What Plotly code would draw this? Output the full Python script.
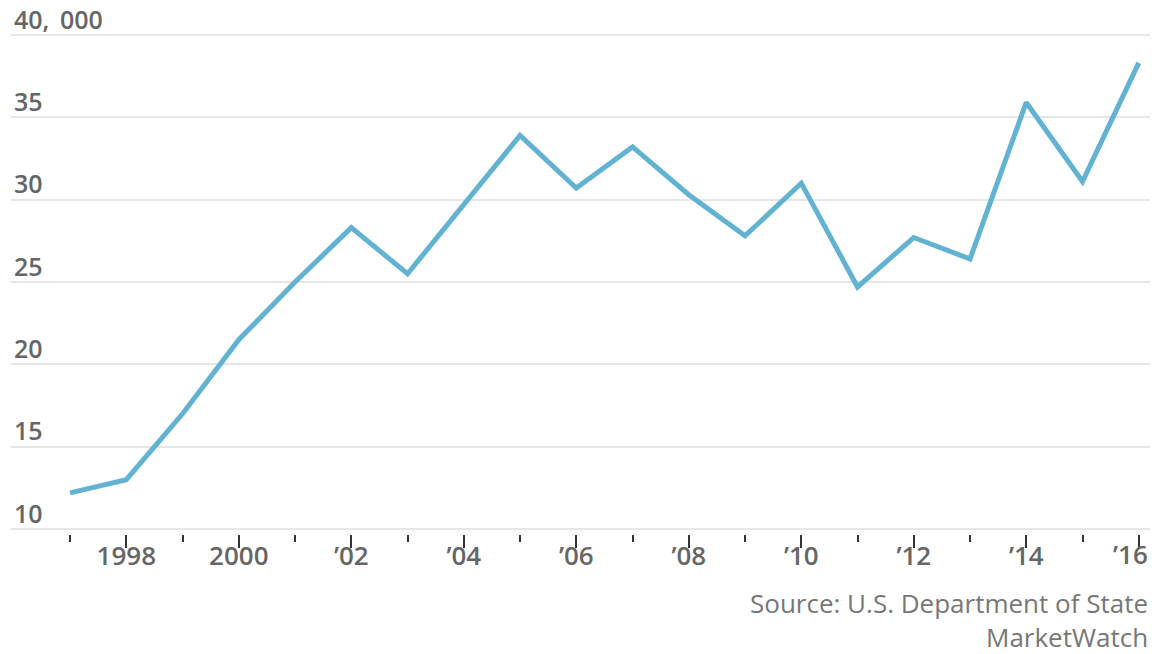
import plotly.graph_objects as go

years = list(range(1997, 2017))
values = [12.2, 13.0, 17.0, 21.5, 25.0, 28.3, 25.5, 29.7, 33.9, 30.7,
          33.2, 30.3, 27.8, 31.0, 24.7, 27.7, 26.4, 35.9, 31.1, 38.3]

major_ticks = list(range(1998, 2017, 2))
major_labels = ["1998", "2000", "\u201902", "\u201904", "\u201906", "\u201908",
                "\u201910", "\u201912", "\u201914", "\u201916"]
minor_ticks = list(range(1997, 2017, 2))
y_ticks = [10, 15, 20, 25, 30, 35, 40]
y_labels = ["10", "15", "20", "25", "30", "35", "40,\u00a0\u2009000"]
source_lines = ["Source: U.S. Department of State", "MarketWatch"]

FONT = "Open Sans"
TICKFONT = dict(size=26, color="#666666", family=FONT, weight=600)

# the last label is placed flush with the right edge (as in the original),
# so the axis shows it empty and an annotation anchored on its tick draws it
axis_labels = major_labels[:-1] + [""]

fig = go.Figure()
fig.add_trace(go.Scatter(x=years, y=values, mode="lines",
                         line=dict(color="#62b2d1", width=5),
                         hoverinfo="skip", cliponaxis=False))

fig.update_layout(
    width=1152, height=654,
    margin=dict(l=11, r=2, t=29.5, b=120),
    paper_bgcolor="white", plot_bgcolor="white",
    showlegend=False,
    font=dict(family=FONT, color="#666666"),
    xaxis=dict(
        range=[1995.95, 2016.2],
        tickmode="array", tickvals=major_ticks, ticktext=axis_labels,
        ticks="outside", ticklen=13, tickwidth=2, tickcolor="#333333",
        tickfont=TICKFONT,
        ticklabelstandoff=-14,
        showgrid=False, zeroline=False,
        showline=False,
        minor=dict(tickmode="array", tickvals=minor_ticks, ticks="outside",
                   ticklen=7, tickwidth=2, tickcolor="#333333", showgrid=False),
    ),
    yaxis=dict(
        range=[9.7, 40.3],
        tickmode="array", tickvals=y_ticks, ticktext=y_labels,
        ticklabelposition="inside", ticklabelshift=-15,
        ticklabeloverflow="allow",
        tickfont=dict(size=25, color="#666666", family=FONT, weight=600),
        showgrid=True, gridcolor="#e6e6e6", gridwidth=2,
        zeroline=False, showline=False, ticks="",
    ),
)

fig.add_annotation(x=major_ticks[-1], y=0, xref="x", yref="paper",
                   xanchor="right", yanchor="middle", showarrow=False,
                   xshift=11, yshift=-20,
                   text=major_labels[-1], font=TICKFONT)

fig.add_annotation(x=1, y=-0.0971, xref="paper", yref="paper",
                   xanchor="right", yanchor="top", showarrow=False,
                   text=source_lines[0],
                   font=dict(size=26, color="#777777", family=FONT))
fig.add_annotation(x=1, y=-0.165, xref="paper", yref="paper",
                   xanchor="right", yanchor="top", showarrow=False,
                   text=source_lines[1],
                   font=dict(size=26, color="#777777", family=FONT))

post = (
    "document.body.style.margin='0';"
    "document.body.style.overflow='hidden';"
)
fig.write_html("out.html", config={"displayModeBar": False}, post_script=post)
